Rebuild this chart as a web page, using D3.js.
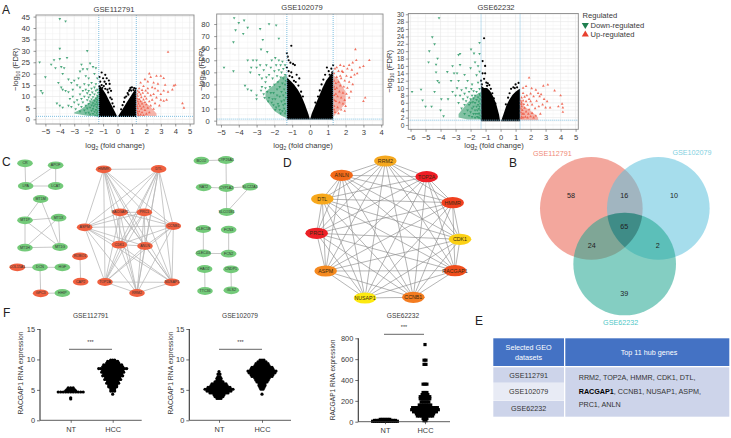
<!DOCTYPE html>
<html><head><meta charset="utf-8">
<script src="https://cdn.jsdelivr.net/npm/d3@7"></script>
<style>html,body{margin:0;padding:0;background:#fff;overflow:hidden}svg{display:block}text{font-family:"Liberation Sans",Arial,sans-serif}</style>
</head><body><svg id="c" width="731" height="438"></svg>
<script>
// ---------- Panel A data ([log2FC, -log10 FDR]) ----------
const a1Down=[[-4,44],[-3.6,43],[-4,31],[-2.1,30],[-5.4,25],[-3.5,27],[-4,26.5],[-4.4,26],[-4.6,24],[-3.9,23],[-4.3,22.5],[-3.7,22.5],[-2.5,24],[-1.9,24.5],[-2.4,22],[-1.7,23],[-1.5,22.5],[-2.6,21],[-2.1,22],[-3.8,20],[-5,18.5],[-4.1,16],[-3.4,17.5],[-3.2,16],[-3,17],[-2.7,18],[-2.2,19],[-2,18],[-1.6,20],[-1.4,18],[-5.3,12.5],[-5.2,11.5],[-3.9,14],[-3.8,13],[-3.6,12.5],[-3.4,12],[-3.1,13],[-2.8,15],[-2.6,14],[-2.3,15.5],[-2,15],[-1.8,16],[-1.5,15.5],[-4.2,7],[-4,6],[-3.8,5.2],[-3.4,6],[-3.3,9],[-3.1,10],[-3,7.5],[-3.2,5.5],[-2.9,4.5],[-2.8,8.5],[-2.7,6.5],[-2.6,11],[-2.6,3.5],[-2.5,9],[-2.5,5.5],[-2.4,7.5],[-2.4,12.5],[-2.3,4],[-2.3,10],[-2.2,6],[-2.2,2.8],[-2.2,13],[-2.1,8.5],[-2.1,11.5],[-2.1,4.8],[-2,6.8],[-2,3],[-2,9.7],[-2,12.5],[-1.9,5.2],[-1.9,7.9],[-1.9,2.2],[-1.9,10.8],[-1.8,3.8],[-1.8,6.2],[-1.8,8.8],[-1.8,13.5],[-1.75,11.8],[-1.7,2.4],[-1.7,4.6],[-1.7,7.1],[-1.7,9.8],[-1.65,5.8],[-1.6,3.4],[-1.6,8.2],[-1.6,11],[-1.6,14],[-1.55,1.8],[-1.55,6.6],[-1.5,4.2],[-1.5,9.2],[-1.5,12.6],[-1.45,2.8],[-1.45,5.4],[-1.45,7.6],[-1.4,1.6],[-1.4,3.6],[-1.4,6.4],[-1.4,8.6],[-1.4,10.4],[-1.4,13],[-1.35,2.2],[-1.35,4.8],[-1.35,7],[-1.35,9.6],[-1.35,11.6]];
const a1Up=[[3.5,29.5],[4.5,7],[4.6,5],[4,15],[3.9,14.7],[3.8,13],[3.2,18],[3,19],[2.7,19],[2.2,20],[2.3,18.5],[1.9,17.5],[1.6,16],[2.1,16.5],[2.5,16],[2.8,15.5],[3.3,15],[3.5,12],[3.2,12.5],[3,11],[2.8,12.5],[2.6,13.5],[2.4,14],[2.1,13.5],[1.8,14.5],[1.5,13.5],[3.4,8.5],[3.2,8],[3,8.5],[2.9,6],[2.7,9.5],[2.6,7],[2.5,11],[2.5,4.5],[2.4,8.5],[2.3,6],[2.3,10.5],[2.2,3],[2.2,7.8],[2.1,5],[2.1,11.5],[2,9],[2,2.4],[2,6.5],[1.95,12.5],[1.9,4],[1.9,7.5],[1.9,10],[1.8,1.8],[1.8,5.5],[1.8,8.6],[1.75,11.5],[1.7,3],[1.7,6.8],[1.7,12.8],[1.65,4.6],[1.65,9.6],[1.6,2],[1.6,7.8],[1.6,10.8],[1.55,5.8],[1.5,3.4],[1.5,8.8],[1.5,11.8],[1.45,1.7],[1.45,6.8],[1.4,2.6],[1.4,4.8],[1.4,7.8],[1.4,10.2],[1.4,12.4],[1.35,3.6],[1.35,5.8],[1.35,9],[1.35,11.2]];
const a1Black=[[-1.1,20.5],[-0.85,19.5],[-1.25,18.5],[-1,18],[-0.75,18],[-0.6,17],[-1.2,16.5],[-0.9,16.5],[-0.8,15.5],[-0.55,15.5],[-0.55,13.5],[-0.45,12.5],[-0.5,9.5],[-1.25,14.5],[-1.1,15],[-1.05,13.8],[-0.95,14.6],[-0.85,13.4],[-0.7,13],[-0.65,11.8],[-0.4,8.8],[-0.35,7],[-0.25,5.6],[0.9,13.8],[1,14],[1.15,13.7],[1.25,13.5],[0.85,13],[0.7,11.5],[0.8,12.5],[0.5,9.5],[0.6,10],[0.45,7.6],[0.35,6.2],[0.25,4.4],[0.75,10.8],[0.95,12.6],[1.1,12.8]];
const a1Wedge={x:[-1.3,-1.2,-1,-0.8,-0.6,-0.4,-0.2,-0.02],top:[15,14.5,13,11,8.5,6,3.5,1.2]};
const a1WedgeR={x:[0.02,0.2,0.4,0.6,0.8,1,1.2,1.3],top:[1.2,3,5,7,9,11,13,13.5]};
const a1DenseD={x:[-3,-2.5,-2,-1.6,-1.3],lo:[2.5,2,1.5,1.5,1.5],hi:[3,4.5,7,9,11]};
const a1DenseU={x:[1.3,1.7,2.2,2.7],lo:[1.5,1.5,1.5,1.5],hi:[10,8,6,2.5]};

const a2Down=[[-4.26,85],[-4,81],[-3.7,83],[-4.18,75],[-3.5,77],[-3.75,72],[-4.3,65],[-2.3,80],[-1.9,79],[-2.8,76],[-2.65,67],[-1.75,68],[-2.75,59],[-2.4,57],[-3.5,50],[-3.2,50],[-3,50],[-4.83,44],[-4.3,41],[-3.65,29],[-3.5,26],[-3.3,25],[-3,21],[-3,18],[-3.3,44],[-3.35,40],[-3,44],[-2.8,46],[-2.85,38],[-2.7,35],[-2.6,42],[-2.5,32],[-2.45,46],[-2.3,38],[-2.25,28],[-2.2,44],[-2.15,50],[-2.1,35],[-2.05,23],[-2,41],[-2,30],[-1.95,18],[-1.95,52],[-1.9,46],[-1.85,37],[-1.85,26],[-1.8,14],[-1.8,32],[-1.75,42],[-1.75,50],[-1.7,20],[-1.7,9],[-1.7,28],[-1.65,36],[-1.65,46],[-1.6,16],[-1.6,24],[-1.6,40],[-1.55,8],[-1.55,31],[-1.55,49],[-1.5,13],[-1.5,21],[-1.5,35],[-1.5,43],[-1.45,26],[-1.45,17],[-1.45,10],[-1.4,6],[-1.4,30],[-1.4,38],[-1.4,46],[-1.4,14],[-1.35,23],[-1.35,19],[-1.35,33],[-1.35,8],[-2.6,22],[-2.4,24],[-2.3,19],[-2.15,15],[-2.05,13],[-1.9,11],[-1.85,21],[-2.5,27],[-2.7,28],[-2.2,23],[-2.1,18],[-2.35,16],[-1.95,9],[-1.75,12],[-1.65,6],[-2.45,36],[-2.75,25],[-2.55,19]];
const a2Up=[[2.55,59],[3.33,50],[2.6,50],[2.4,48],[3,45],[2.35,42],[2.65,39],[3.1,19],[3,16],[2,12],[2.8,44],[2.2,46],[2.1,43],[1.9,45],[1.7,46],[1.5,44],[2.5,38],[2.3,36],[2.05,37],[1.85,40],[1.6,41],[1.4,43],[2.4,30],[2.2,32],[1.95,33],[1.75,35],[1.5,36],[2.3,24],[2.1,27],[1.9,28],[1.7,29],[1.45,31],[2.2,19],[2.05,22],[1.85,23],[1.65,24],[1.4,26],[1.95,17],[1.75,19],[1.55,20],[1.35,21],[1.85,14],[1.65,15],[1.45,16],[1.35,12],[1.55,11],[1.75,9],[1.95,8],[1.4,7],[1.6,6],[1.35,33],[1.35,39],[1.35,28],[1.35,17],[1.35,9],[1.45,22],[1.5,27],[1.6,32],[1.7,37],[1.8,41]];
const a2Black=[[-1.05,62],[-1.3,56],[-1.25,53],[-1.2,50],[-1.1,48],[-0.95,47],[-0.85,46],[-1.3,44],[-1.05,40],[-0.75,38],[-0.6,35],[-0.9,33],[-1.2,41],[-1.15,37],[-1,36],[-0.8,32],[-0.65,29],[-0.5,24],[-0.4,20],[1.3,46],[1.2,43],[1.05,41],[0.95,44],[0.85,38],[0.75,34],[1.25,40],[1.1,38],[0.65,30],[0.55,25],[0.45,20],[0.3,15]];
const a2Wedge={x:[-1.3,-1.1,-0.9,-0.7,-0.5,-0.3,-0.1,0],top:[36,33,30,26,21,14,6,1]};
const a2WedgeR={x:[0,0.1,0.3,0.5,0.7,0.9,1.1,1.3],top:[1,6,13,20,27,33,37,41]};
const a2DenseD={x:[-2.5,-2,-1.6,-1.3],lo:[18,8,4,2],hi:[24,30,36,38]};
const a2DenseU={x:[1.3,1.6,2],lo:[3,8,14],hi:[38,34,24]};

const a3Down=[[-4.1,29],[-4.55,23.8],[-4.4,21.9],[-4.75,20],[-4.2,18],[-4.8,17],[-4.3,16.4],[-4.3,14.3],[-3.55,14.4],[-4.2,12],[-4.1,11.5],[-4.4,9],[-5.9,9],[-5.3,9.6],[-5.2,6.7],[-5,5],[-4.6,5],[-3.95,7],[-4,4],[-3.8,2.4],[-2.8,19],[-2.7,19.3],[-3.2,16],[-2.7,16.3],[-3.1,14],[-2.9,14],[-3.3,12],[-2.8,12],[-1.97,20.5],[-1.77,19.4],[-1.4,19.3],[-1.4,22.3],[-2.4,13.6],[-2,15.4],[-1.7,17],[-1.5,16],[-1.6,13.5],[-1.4,14.5],[-2.2,12],[-1.9,11],[-1.5,11.5],[-3.5,7],[-3.2,9],[-3,8],[-2.9,10],[-2.8,6],[-2.7,8],[-2.6,4.5],[-2.6,9.5],[-2.5,7],[-2.4,3],[-2.4,5.5],[-2.4,8.5],[-2.3,10],[-2.3,6.5],[-2.2,4],[-2.2,7.5],[-2.1,2.5],[-2.1,5.5],[-2.1,9],[-2,3.5],[-2,7],[-2,6],[-1.95,9.8],[-1.9,2.2],[-1.9,4.5],[-1.9,8],[-1.85,6.2],[-1.8,3],[-1.8,5],[-1.8,7.2],[-1.8,9.2],[-1.7,2],[-1.7,4],[-1.7,6],[-1.7,8],[-1.65,3],[-1.6,5],[-1.6,6.8],[-1.6,9],[-1.55,2.2],[-1.55,4],[-1.5,3],[-1.5,5.5],[-1.5,7.5],[-1.45,2],[-1.45,4.4],[-1.45,6.4],[-1.4,3.2],[-1.4,5],[-1.4,8.4],[-1.4,9.8],[-1.35,1.8],[-1.35,2.6],[-1.35,4],[-1.35,5.8],[-1.35,7],[-1.35,8]];
const a3Up=[[1.9,12.8],[1.7,10.5],[1.5,10],[2.07,9.9],[3.15,10.9],[2.85,10.6],[3.6,9.3],[4,8],[4.1,5.7],[4.15,4.7],[4.15,3.5],[3,4.7],[3.3,4.7],[3.85,5],[2.6,7.7],[2.7,8.3],[2.5,8.6],[2.35,9.5],[2.9,7],[3.1,6.4],[2.8,5.5],[2.65,3],[2.55,5],[2.4,6.5],[2.35,2.5],[2.3,4.5],[2.2,7.7],[2.2,2],[2.1,5.5],[2.1,3.2],[2,8.5],[2,6.4],[2,2.3],[1.9,4.2],[1.9,7],[1.85,3],[1.8,5.4],[1.8,2],[1.75,8],[1.7,3.6],[1.7,6.4],[1.65,2.2],[1.6,4.6],[1.6,7.6],[1.55,3],[1.55,5.6],[1.5,2],[1.5,6.6],[1.5,8.6],[1.45,4],[1.45,3],[1.4,2.2],[1.4,5],[1.4,6],[1.4,7.4],[1.35,1.8],[1.35,3.4],[1.35,4.4],[1.35,5.6],[1.35,6.6]];
const a3Black=[[-1.1,23.5],[-1.2,17.3],[-1.03,16],[-1.03,14],[-1.2,14],[-1.3,12],[-1.1,12.5],[-0.95,11.5],[-0.85,11.3],[-0.75,10.8],[-0.9,10.6],[-1.25,11],[-0.65,9.8],[-0.55,8.6],[-0.45,7.2],[-0.35,5.8],[1.2,11.4],[1,11],[0.85,10.2],[0.7,9.8],[1.1,10.2],[0.95,10],[0.6,8.6],[0.5,7.4],[0.35,5.6]];
const a3Wedge={x:[-1.3,-1.1,-0.9,-0.7,-0.5,-0.3,-0.1,-0.03],top:[10.6,10,10,9.2,7.8,5.8,2.8,1]};
const a3WedgeR={x:[0.03,0.2,0.4,0.6,0.8,1,1.2,1.3],top:[1,3,5.4,7,8.2,9,9.6,9.8]};
const a3DenseD={x:[-2.8,-2.2,-1.7,-1.3],lo:[2,1.5,1.5,1.5],hi:[3,6,8,9]};
const a3DenseU={x:[1.3,1.6,2.1,2.5],lo:[1.3,1.3,1.3,1.3],hi:[7,5,3.5,2]};

const volcanoTitles=["GSE112791","GSE102079","GSE62232"];
const a1XTicks=[-5,-4,-3,-2,-1,0,1,2,3,4,5], a1YTicks=[0,5,10,15,20,25,30,35,40,45];
const a2XTicks=[-5,-4,-3,-2,-1,0,1,2,3,4], a2YTicks=[0,10,20,30,40,50,60,70,80];
const a3XTicks=[-6,-5,-4,-3,-2,-1,0,1,2,3,4,5], a3YTicks=[0,2,4,6,8,10,12,14,16,18,20,22,24,26,28,30];
const legendLabels=["Regulated","Down-regulated","Up-regulated"];

// ---------- Panel C data (layout units) ----------
const cNames=["CR","APOF","LPA","LCAT","MT1M","MT1P","MT1X","MT1H","MT1G","COL15A1","DCN","HGF","GPC3","HHIP","HMMR","DTL","RACGAP1","PRC1","ASPM","CCNB1","CDK1","ANLN","TOP2A","NUSAP1","RRM2","ROBO1","CAP2","BCO2","CYP26A1","NAT2","CYP1A2","SLC22A1","SLCO1B1","CLEC1B","FCN3","CLEC4G","FCN2","HAO2","CNDP1","TTC36","GLS2"];
const cLayoutX=[75,167,77,167,122,75,176,75,180,52,120,187,122,187,311,476,360,433,254,520,358,435,315,516,411,240,242,604,678,611,679,750,680,610,686,610,686,614,693,615,694];
const cLayoutY=[40,46,108,108,147,211,203,293,291,352,352,352,430,429,58,57,187,187,232,228,284,288,396,397,429,319,395,32,30,112,114,110,186,237,239,310,311,357,358,423,421];
const cUpGenes=["COL15A1","GPC3","HMMR","DTL","RACGAP1","PRC1","ASPM","CCNB1","CDK1","ANLN","TOP2A","NUSAP1","RRM2","ROBO1","CAP2"];
const cEdges=[["CR","LPA"],["APOF","LPA"],["APOF","LCAT"],["LPA","LCAT"],["MT1M","MT1P"],["MT1M","MT1G"],["MT1P","MT1X"],["MT1P","MT1H"],["MT1P","MT1G"],["MT1X","MT1H"],["MT1X","MT1G"],["MT1H","MT1G"],["COL15A1","DCN"],["DCN","HGF"],["DCN","GPC3"],["GPC3","HHIP"],["ROBO1","CAP2"],["BCO2","CYP26A1"],["CYP26A1","CYP1A2"],["NAT2","CYP1A2"],["CYP1A2","SLC22A1"],["CYP1A2","SLCO1B1"],["SLC22A1","SLCO1B1"],["CLEC1B","CLEC4G"],["CLEC4G","FCN2"],["FCN3","FCN2"],["HAO2","TTC36"],["CNDP1","GLS2"]];
const hubGenes=["RRM2","TOP2A","HMMR","CDK1","RACGAP1","CCNB1","NUSAP1","ASPM","PRC1","DTL","ANLN"];

// ---------- Panel D data ----------
const dLayoutX=[376,500,578,600,585,460,315,197,170,187,245];
const dLayoutY=[33,80,158,268,362,442,444,363,250,147,76];
const dColors=["#f5a81f","#ee1c25","#f0401f","#fcd116","#f04e1c","#f47c20","#fde910","#f58a20","#ec2027","#f7a81c","#f36a1a"];

// ---------- Panel B data ----------
const vennNames=["GSE112791","GSE102079","GSE62232"];
const vennCx=[364,565,464], vennCy=[205,205,372], vennR=[154,154,154];
const vennColors=["#ea5f4d","#5dc1dc","#1fa68f"];
const vennCounts=["58","16","10","65","24","2","39"];
const vennCountX=[303,463,612,463,365,563,463], vennCountY=[165,165,165,260,316,316,460];
const vennNameX=[247,666,452], vennNameY=[39,37,547], vennNameColors=["#f08a78","#7fd0e0","#4fc7c7"];

// ---------- Panel F data: swarm rows (value, number of points) ----------
const f1NtVals=[5.35,5.05,4.85,4.65,3.7,3.5], f1NtCounts=[3,4,5,11,1,1];
const f1HccVals=[4.3,4.8,5.2,5.5,5.8,6.1,6.4,6.7,7,7.3,7.6,7.9,8.2,8.5,8.8,9.1,9.4,9.7,9.9], f1HccCounts=[1,3,3,5,5,7,6,9,8,11,10,12,11,15,11,10,7,6,3];
const f2NtVals=[8,7.6,7.2,6.9,6.6,6.3,6,5.7,5.4,5.1,4.8,4.5,4.2,3.9,3.6], f2NtCounts=[1,2,2,3,3,5,8,9,12,15,13,10,6,5,3];
const f2HccVals=[4.3,5.1,5.4,5.7,6,6.3,6.6,6.9,7.2,7.5,7.8,8.1,8.4,8.7,9,9.3,9.6,9.9], f2HccCounts=[1,2,3,4,4,6,7,8,11,12,14,15,12,11,8,7,5,3];
const f3NtVals=[22,12,4], f3NtCounts=[6,12,14];
const f3HccVals=[740,590,550,360,280,260,240,220,190,160,135,115,95,75,55,30,10], f3HccCounts=[1,2,2,3,3,4,6,6,5,7,14,15,13,10,9,3,2];
const fCats=["NT","HCC"];
const f12Ticks=[0,5,10,15], f3Ticks=[0,200,400,600,800];

// ---------- Panel E data ----------
const tableHeader=[["Selected GEO","datasets"],["Top 11 hub genes"]];
const tableRows=["GSE112791","GSE102079","GSE62232"];
const tableLines=[[["RRM2, TOP2A, HMMR, CDK1, DTL,",false]],[["RACGAP1",true],[", CCNB1, NUSAP1, ASPM,",false]],[["PRC1, ANLN",false]]];

const svg=d3.select("#c");
const INK="#3a3a3a", FS=7.6;

function txt(g,x,y,s,o={}){return g.append("text").attr("x",x).attr("y",y).attr("text-anchor",o.a||"middle").attr("dominant-baseline","central").attr("font-size",o.fs||FS).attr("fill",o.c||INK).attr("font-weight",o.w||null).text(s);}
function letter(s,x,y){svg.append("text").attr("x",x).attr("y",y).attr("font-size",12).attr("fill","#222").text(s);}
letter("A",2,14);letter("C",2,166);letter("D",283,167);letter("B",509,167);letter("E",475,325);letter("F",3,317);

function subTitle(g,x,y,rot,base,sub,after){
  const t=g.append("text").attr("text-anchor","middle").attr("font-size",FS).attr("fill",INK)
    .attr("transform",`translate(${x},${y})`+(rot?" rotate(-90)":""));
  t.append("tspan").text(base);
  t.append("tspan").attr("dy",1.8).attr("font-size",5).text(sub);
  t.append("tspan").attr("dy",-1.8).text(after);
}

function volcano(o){
  const x=d3.scaleLinear().domain(o.xd).range([o.l,o.r]);
  const y=d3.scaleLinear().domain(o.yd).range([o.b,o.t]);
  const g=svg.append("g");
  const minorX=o.xt.slice(1).map((v,i)=>(v+o.xt[i])/2), minorY=o.yt.slice(1).map((v,i)=>(v+o.yt[i])/2);
  g.selectAll(".mx").data(minorX).join("line").attr("x1",d=>x(d)).attr("x2",d=>x(d)).attr("y1",o.t).attr("y2",o.b).attr("stroke","#f3f3f3").attr("stroke-width",.5);
  g.selectAll(".my").data(minorY).join("line").attr("y1",d=>y(d)).attr("y2",d=>y(d)).attr("x1",o.l).attr("x2",o.r).attr("stroke","#f3f3f3").attr("stroke-width",.5);
  g.selectAll(".gx").data(o.xt).join("line").attr("x1",d=>x(d)).attr("x2",d=>x(d)).attr("y1",o.t).attr("y2",o.b).attr("stroke","#e6e6e6").attr("stroke-width",.6);
  g.selectAll(".gy").data(o.yt).join("line").attr("y1",d=>y(d)).attr("y2",d=>y(d)).attr("x1",o.l).attr("x2",o.r).attr("stroke","#e6e6e6").attr("stroke-width",.6);
  // dense clouds of regulated genes, drawn as a band under the single points
  [[o.dd,"#2f9a68",.6],[o.du,"#ee5a45",.45]].forEach(([b,c,op])=>{
    const pts=b.x.map((v,i)=>[v,b.lo[i],b.hi[i]]);
    g.append("path").attr("fill",c).attr("opacity",op).attr("d",d3.area().x(d=>x(d[0])).y0(d=>y(d[1])).y1(d=>y(d[2]))(pts));
  });
  // dense non-significant wedges
  [o.wl,o.wr].forEach(w=>{
    const pts=w.x.map((v,i)=>[v,w.top[i]]);
    g.append("path").attr("fill","#000").attr("d",d3.area().x(d=>x(d[0])).y1(d=>y(d[1])).y0(y(1))(pts));
  });
  const sym=d3.symbol().type(d3.symbolTriangle).size(3.2);
  g.selectAll(".b").data(o.black).join("circle").attr("cx",d=>x(d[0])).attr("cy",d=>y(d[1])).attr("r",1.1).attr("fill","#000");
  g.selectAll(".d").data(o.down).join("path").attr("transform",d=>`translate(${x(d[0])},${y(d[1])}) rotate(180)`).attr("d",sym()).attr("fill","#2f9a68").attr("opacity",.85);
  g.selectAll(".u").data(o.up).join("path").attr("transform",d=>`translate(${x(d[0])},${y(d[1])})`).attr("d",sym()).attr("fill","#ee5a45").attr("opacity",.85);
  // thresholds
  [-1.3,1.3].forEach(v=>g.append("line").attr("x1",x(v)).attr("x2",x(v)).attr("y1",o.t).attr("y2",o.b).attr("stroke","#7fbfe0").attr("stroke-width",1).attr("stroke-dasharray","1 1"));
  g.append("line").attr("x1",o.l).attr("x2",o.r).attr("y1",y(1.3)).attr("y2",y(1.3)).attr("stroke","#7fbfe0").attr("stroke-width",1).attr("stroke-dasharray","1 1");
  g.append("rect").attr("x",o.l).attr("y",o.t).attr("width",o.r-o.l).attr("height",o.b-o.t).attr("fill","none").attr("stroke","#8a8a8a").attr("stroke-width",.9);
  // axes
  const ax=g.append("g").attr("transform",`translate(0,${o.b})`).call(d3.axisBottom(x).tickValues(o.xt).tickSize(2.5).tickPadding(2.5).tickFormat(d=>d<0?"\u2212"+(-d):d));
  const ay=g.append("g").attr("transform",`translate(${o.l},0)`).call(d3.axisLeft(y).tickValues(o.yt).tickSize(2.5).tickPadding(o.tp));
  [ax,ay].forEach((a,i)=>{a.select(".domain").remove();a.selectAll("line").attr("stroke","#555").attr("stroke-width",.6);a.selectAll("text").attr("font-size",i?o.yFs:FS).attr("fill",INK).attr("font-family","Liberation Sans");});
  txt(g,o.titleX,o.titleY,o.title);
  subTitle(g,o.xtX,o.xtY,false,"log","2"," (fold change)");
  subTitle(g,o.ytX,(o.t+o.b)/2,true,"\u2212log","10"," (FDR)");
}
volcano({title:volcanoTitles[0],titleX:114,titleY:9,l:36,r:194,t:15,b:124,xd:[-5.65,5.3],yd:[-2.05,45.7],xt:a1XTicks,yt:a1YTicks,down:a1Down,up:a1Up,black:a1Black,wl:a1Wedge,wr:a1WedgeR,dd:a1DenseD,du:a1DenseU,xtX:115,xtY:148,ytX:18,tp:3.5,yFs:FS});
volcano({title:volcanoTitles[1],titleX:302,titleY:7,l:216.7,r:383,t:14,b:125,xd:[-5.24,4.1],yd:[-3.6,88.3],xt:a2XTicks,yt:a2YTicks,down:a2Down,up:a2Up,black:a2Black,wl:a2Wedge,wr:a2WedgeR,dd:a2DenseD,du:a2DenseU,xtX:303,xtY:148,ytX:203.5,tp:4.5,yFs:FS});
volcano({title:volcanoTitles[2],titleX:496,titleY:7,l:408.3,r:578.3,t:13.5,b:129.3,xd:[-6.15,5.18],yd:[-1.17,30.2],xt:a3XTicks,yt:a3YTicks,down:a3Down,up:a3Up,black:a3Black,wl:a3Wedge,wr:a3WedgeR,dd:a3DenseD,du:a3DenseU,xtX:494,xtY:148,ytX:392,tp:1.5,yFs:6.6});

// legend
const lg=svg.append("g");
const legendY=d3.scalePoint().domain(legendLabels).range([15.5,34.5]);
txt(lg,582.5,legendY(legendLabels[0]),legendLabels[0],{a:"start"});
txt(lg,590.5,legendY(legendLabels[1]),legendLabels[1],{a:"start"});
txt(lg,590.5,legendY(legendLabels[2]),legendLabels[2],{a:"start"});
lg.append("path").attr("transform",`translate(585.3,${legendY(legendLabels[1])}) rotate(180)`).attr("d",d3.symbol().type(d3.symbolTriangle).size(22)()).attr("fill","#1f7f50");
lg.append("path").attr("transform",`translate(585.3,${legendY(legendLabels[2])})`).attr("d",d3.symbol().type(d3.symbolTriangle).size(22)()).attr("fill","#e8402e");

// Panel C network
const cx=d3.scaleLinear().domain([0,810]).range([0,270]), cy=d3.scaleLinear().domain([0,450]).range([150,300]);
const cIdx=new Map(cNames.map((n,i)=>[n,i]));
const cAll=cEdges.slice();
hubGenes.forEach((a,i)=>hubGenes.slice(i+1).forEach(b=>cAll.push([a,b])));
const cg=svg.append("g");
cg.selectAll("line").data(cAll).join("line")
 .attr("x1",d=>cx(cLayoutX[cIdx.get(d[0])])).attr("y1",d=>cy(cLayoutY[cIdx.get(d[0])]))
 .attr("x2",d=>cx(cLayoutX[cIdx.get(d[1])])).attr("y2",d=>cy(cLayoutY[cIdx.get(d[1])]))
 .attr("stroke","#b5b5b5").attr("stroke-width",.75);
cg.selectAll("ellipse").data(cNames).join("ellipse").attr("cx",(d,i)=>cx(cLayoutX[i])).attr("cy",(d,i)=>cy(cLayoutY[i])).attr("rx",7.8).attr("ry",3.9)
 .attr("fill",d=>cUpGenes.includes(d)?"#f0603f":"#74ca7a");
cg.selectAll("text").data(cNames).join("text").attr("x",(d,i)=>cx(cLayoutX[i])).attr("y",(d,i)=>cy(cLayoutY[i])).attr("text-anchor","middle").attr("dominant-baseline","central").attr("font-size",3.6).attr("fill","#333").text(d=>d);

// Panel D network
const dx=d3.scaleLinear().domain([0,600]).range([260,460]), dy=d3.scaleLinear().domain([0,480]).range([150,310]);
const dg=svg.append("g");
const dPairs=[];
hubGenes.forEach((a,i)=>hubGenes.forEach((b,j)=>{if(j>i)dPairs.push([i,j]);}));
dg.selectAll("line").data(dPairs).join("line").attr("x1",d=>dx(dLayoutX[d[0]])).attr("y1",d=>dy(dLayoutY[d[0]])).attr("x2",d=>dx(dLayoutX[d[1]])).attr("y2",d=>dy(dLayoutY[d[1]])).attr("stroke","#8c8c8c").attr("stroke-width",.65);
dg.selectAll("ellipse").data(hubGenes).join("ellipse").attr("cx",(d,i)=>dx(dLayoutX[i])).attr("cy",(d,i)=>dy(dLayoutY[i])).attr("rx",11.3).attr("ry",5.6).attr("fill",(d,i)=>dColors[i]);
dg.selectAll("text").data(hubGenes).join("text").attr("x",(d,i)=>dx(dLayoutX[i])).attr("y",(d,i)=>dy(dLayoutY[i])).attr("text-anchor","middle").attr("dominant-baseline","central").attr("font-size",5.3).attr("fill","#3a2a10").text(d=>d);

// Panel B venn
const vx=d3.scaleLinear().domain([0,783]).range([470,731]), vy=d3.scaleLinear().domain([0,570]).range([140,330]);
const vg=svg.append("g");
vg.selectAll("circle").data(vennNames).join("circle").attr("cx",(d,i)=>vx(vennCx[i])).attr("cy",(d,i)=>vy(vennCy[i])).attr("r",(d,i)=>vennR[i]/3).attr("fill",(d,i)=>vennColors[i]).attr("fill-opacity",.55);
const defs=svg.append("defs");
defs.append("clipPath").attr("id","cA").append("circle").attr("cx",vx(vennCx[0])).attr("cy",vy(vennCy[0])).attr("r",vennR[0]/3);
defs.append("clipPath").attr("id","cB").attr("clip-path","url(#cA)").append("circle").attr("cx",vx(vennCx[1])).attr("cy",vy(vennCy[1])).attr("r",vennR[1]/3);
vg.append("g").attr("clip-path","url(#cB)").append("circle").attr("cx",vx(vennCx[2])).attr("cy",vy(vennCy[2])).attr("r",vennR[2]/3).attr("fill","#0d4a48").attr("fill-opacity",.33);
vennCounts.forEach((s,i)=>txt(vg,vx(vennCountX[i]),vy(vennCountY[i]),s,{fs:7.2,c:"#222"}));
vennNames.forEach((s,i)=>txt(vg,vx(vennNameX[i]),vy(vennNameY[i]),s,{fs:7.2,c:vennNameColors[i]}));

// Panel F scatter
function swarm(o){
  const g=svg.append("g");
  const y=d3.scaleLinear().domain(o.yd).range([o.y0,o.y1]);
  const x=d3.scalePoint().domain(fCats).range(o.cats);
  const rows=(vals,counts,cat)=>vals.flatMap((v,i)=>d3.range(counts[i]).map(k=>({cat,v,k,n:counts[i]})));
  const pts=rows(o.ntV,o.ntC,"NT").concat(rows(o.hcV,o.hcC,"HCC"));
  const px=d=>x(d.cat)+(d.k-(d.n-1)/2)*(d.cat==="NT"&&o.ntDx?o.ntDx:o.dx);
  if(o.square) g.selectAll("rect.p").data(pts).join("rect").attr("class","p").attr("x",d=>px(d)-1.6).attr("y",d=>y(d.v)-1.6).attr("width",3.2).attr("height",3.2).attr("fill","#000");
  else g.selectAll("circle").data(pts).join("circle").attr("cx",px).attr("cy",d=>y(d.v)).attr("r",1.6).attr("fill","#000");
  const ax=g.append("g").attr("transform",`translate(0,${o.y0})`).call(d3.axisBottom(x).tickSize(2.5).tickPadding(3.5));
  const ay=g.append("g").attr("transform",`translate(${o.l},0)`).call(d3.axisLeft(y).tickValues(o.ticks).tickSize(3).tickPadding(2));
  ax.select(".domain").attr("d",`M${o.l},0H${o.r}`);
  ay.select(".domain").attr("d",`M0,${o.y1}V${o.y0}`);
  [ax,ay].forEach(a=>{a.select(".domain").attr("stroke","#333").attr("stroke-width",a===ay?1.1:.8);a.selectAll("line").attr("stroke","#333").attr("stroke-width",.7);a.selectAll("text").attr("font-size",o.fs||7.4).attr("fill",INK).attr("font-family","Liberation Sans");});
  g.append("line").attr("x1",o.barL).attr("x2",o.barR).attr("y1",o.barY).attr("y2",o.barY).attr("stroke","#555").attr("stroke-width",.9);
  txt(g,(o.barL+o.barR)/2,o.barY-7.5,"***",{fs:5.5});
  txt(g,o.titleX,315.5,o.title,{fs:6.6});
  g.append("text").attr("transform",`translate(${o.ytX},${o.ytY}) rotate(-90)`).attr("text-anchor","middle").attr("dominant-baseline","central").attr("font-size",o.ytFs||6.8).attr("fill",INK).text("RACGAP1 RNA expression");
}
swarm({title:volcanoTitles[0],titleX:90.7,l:40,r:141.7,y0:420.3,y1:329,yd:[0,15],cats:[70.7,112.7],dx:2,ntDx:2.5,ntV:f1NtVals,ntC:f1NtCounts,hcV:f1HccVals,hcC:f1HccCounts,ticks:f12Ticks,barL:69,barR:112,barY:349.3,ytX:20.7,ytY:373});
swarm({title:volcanoTitles[1],titleX:240,l:189.3,r:291,y0:420.3,y1:329,yd:[0,15],cats:[219,262],dx:2,ntV:f2NtVals,ntC:f2NtCounts,hcV:f2HccVals,hcC:f2HccCounts,ticks:f12Ticks,barL:219,barR:262,barY:349.3,ytX:170,ytY:373});
swarm({title:volcanoTitles[2],titleX:403,l:358.3,r:450,y0:421.7,y1:338.3,yd:[0,800],cats:[385,425],dx:1.9,square:true,ntV:f3NtVals,ntC:f3NtCounts,hcV:f3HccVals,hcC:f3HccCounts,ticks:f3Ticks,barL:384,barR:424,barY:334.3,ytX:332.7,ytY:380,ytFs:6.6});

// Panel E table
const tg=svg.append("g");
const HEAD="#4472c4", LIGHT="#cdd4ea", PALE="#e8ebf5";
tg.append("rect").attr("x",493.3).attr("y",338.3).attr("width",70.7).attr("height",27.7).attr("fill",HEAD);
tg.append("rect").attr("x",565.3).attr("y",338.3).attr("width",164).attr("height",27.7).attr("fill",HEAD);
const rowY=[367.3,383,401], rowH=[15.4,17.7,15.7], rowFill=[LIGHT,PALE,LIGHT];
tableRows.forEach((s,i)=>{
  tg.append("rect").attr("x",493.3).attr("y",rowY[i]).attr("width",70.7).attr("height",rowH[i]).attr("fill",rowFill[i]);
  txt(tg,528.6,rowY[i]+rowH[i]/2,s,{fs:7.2,c:"#333"});
});
tg.append("rect").attr("x",565.3).attr("y",367.3).attr("width",164).attr("height",49.4).attr("fill",LIGHT);
txt(tg,528.6,347,tableHeader[0][0],{fs:7.2,c:"#fff"});
txt(tg,528.6,357,tableHeader[0][1],{fs:7.2,c:"#fff"});
txt(tg,649,352,tableHeader[1][0],{fs:7.2,c:"#fff"});
tableLines.forEach((ln,i)=>{
  const t=tg.append("text").attr("x",578.7).attr("y",377.3+i*13.5).attr("dominant-baseline","central").attr("font-size",7.2).attr("fill","#333");
  ln.forEach(p=>t.append("tspan").attr("font-weight",p[1]?"bold":null).attr("fill",p[1]?"#000":null).text(p[0]));
});
</script></body></html>
